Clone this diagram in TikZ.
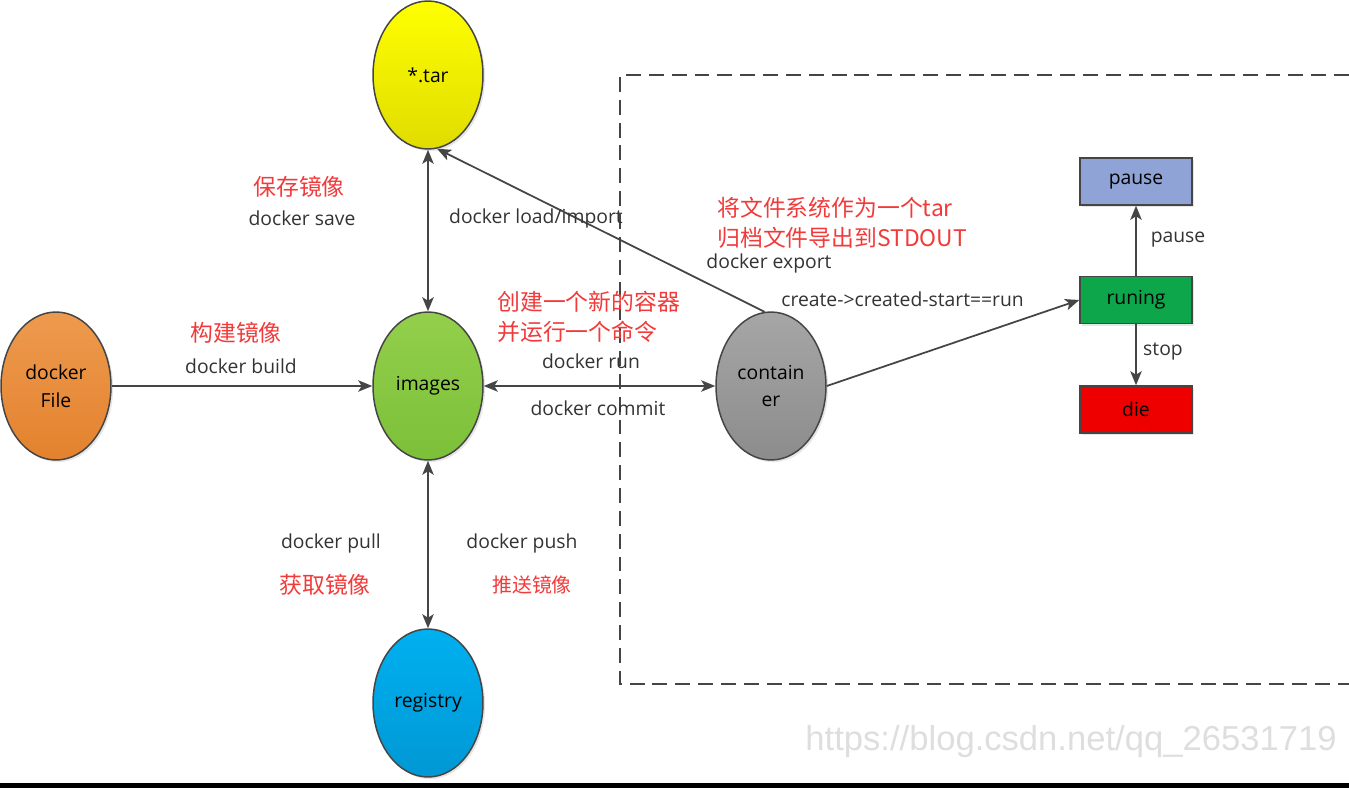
\documentclass[tikz,border=0pt]{standalone}
\usepackage{fontspec}
\setmainfont{Open Sans}
\newfontfamily\cjk{Noto Sans CJK SC}
\newfontfamily\wmfont{Liberation Sans}
\usetikzlibrary{arrows.meta,shapes.geometric,shadows}

\definecolor{linegray}{HTML}{454545}
\definecolor{txtgray}{HTML}{333333}
\definecolor{notered}{HTML}{F23A3A}
\definecolor{pauseblue}{HTML}{8FA3D6}
\definecolor{rungreen}{HTML}{0DA64A}
\definecolor{diered}{HTML}{EE0000}

\tikzset{
  blob/.style={ellipse,draw=linegray,line width=0.85pt,minimum width=2.2cm,minimum height=2.96cm,
    inner sep=0pt,align=center,font=\fontsize{11}{15.9}\selectfont,
    drop shadow={shadow xshift=1.2pt,shadow yshift=-1.2pt,opacity=0.2}},
  statebox/.style={rectangle,draw=linegray,line width=0.85pt,minimum width=2.24cm,minimum height=0.94cm,
    inner sep=0pt,font=\fontsize{11}{13}\selectfont,
    drop shadow={shadow xshift=1.2pt,shadow yshift=-1.2pt,opacity=0.2}},
  conn/.style={draw=linegray,line width=1pt},
  lbl/.style={text=txtgray,font=\fontsize{11}{13}\selectfont,inner sep=0pt},
  redlbl/.style={text=notered,font=\cjk\fontsize{13}{17.2}\selectfont,inner sep=0pt,align=left},
  >={Stealth[length=8pt,width=6.5pt,inset=2pt]}
}

\begin{document}
\begin{tikzpicture}[x=0.02cm,y=-0.02cm]
\useasboundingbox (0,0) rectangle (1349,788);
\draw[linegray,line width=1.1pt,dash pattern=on 8.5pt off 4.5pt] (1349,75) -- (620,75) -- (620,684) -- (1349,684);
\node[blob,top color=yellow,bottom color={rgb,255:red,224;green,220;blue,0}] (tar) at (428,75) {*.tar};
\node[blob,top color={rgb,255:red,147;green,207;blue,75},bottom color={rgb,255:red,124;green,192;blue,56}] (img) at (428,386) {images};
\node[blob,top color={rgb,255:red,238;green,154;blue,78},bottom color={rgb,255:red,227;green,130;blue,46}] (dfile) at (56,386) {docker\\File};
\node[blob,top color={rgb,255:red,166;green,166;blue,166},bottom color={rgb,255:red,140;green,140;blue,140}] (cont) at (771,386) {contain\\er};
\node[blob,top color={rgb,255:red,0;green,176;blue,240},bottom color={rgb,255:red,0;green,152;blue,212}] (reg) at (428,703) {registry};
\node[statebox,fill=pauseblue] (pause) at (1136,181.5) {pause};
\node[statebox,fill=rungreen] (run) at (1136,300) {runing};
\node[statebox,fill=diered] (die) at (1136,409.5) {die};
\draw[conn,->] (dfile) -- (img);
\draw[conn,<->] (img) -- (tar);
\draw[conn,<->] (img) -- (cont);
\draw[conn,<->] (img) -- (reg);
\draw[conn,->] (cont.95) -- (tar.-83);
\draw[conn,->] (cont.east) -- (run.west);
\draw[conn,->] (run) -- (pause);
\draw[conn,->] (run) -- (die);
\node[redlbl] (savecn) at (299,187) {保存镜像};
\node[lbl] (savecmd) at (302,218) {docker save};
\node[lbl] (loadcmd) at (536,218) {docker load/import};
\node[redlbl] (buildcn) at (236,333) {构建镜像};
\node[lbl] (buildcmd) at (241,366) {docker build};
\node[redlbl,anchor=west] (runcn) at (497,316.5) {创建一个新的容器\\并运行一个命令};
\node[lbl] (runcmd) at (591,361) {docker run};
\node[lbl] (commitcmd) at (598,408) {docker commit};
\node[redlbl,anchor=west] (exportcn) at (717,223) {将文件系统作为一个tar\\归档文件导出到STDOUT};
\node[lbl] (exportcmd) at (769,263) {docker export};
\node[lbl,anchor=west] (lifecmd) at (781,299) {create->created-start==run};
\node[lbl] (pausecmd) at (1178,240) {pause};
\node[lbl] (stopcmd) at (1163,351) {stop};
\node[lbl] (pullcmd) at (331,543) {docker pull};
\node[lbl] (pushcmd) at (522,543) {docker push};
\node[redlbl] (pullcn) at (325,585) {获取镜像};
\node[redlbl,font=\cjk\fontsize{11.3}{14}\selectfont] (pushcn) at (532,585) {推送镜像};
\node[text=black!13,font=\wmfont\fontsize{19.7}{22}\selectfont,inner sep=0pt] (mark) at (1071,742) {https://blog.csdn.net/qq\_26531719};
\fill[black] (0,783) rectangle (1349,788);
\end{tikzpicture}
\end{document}
